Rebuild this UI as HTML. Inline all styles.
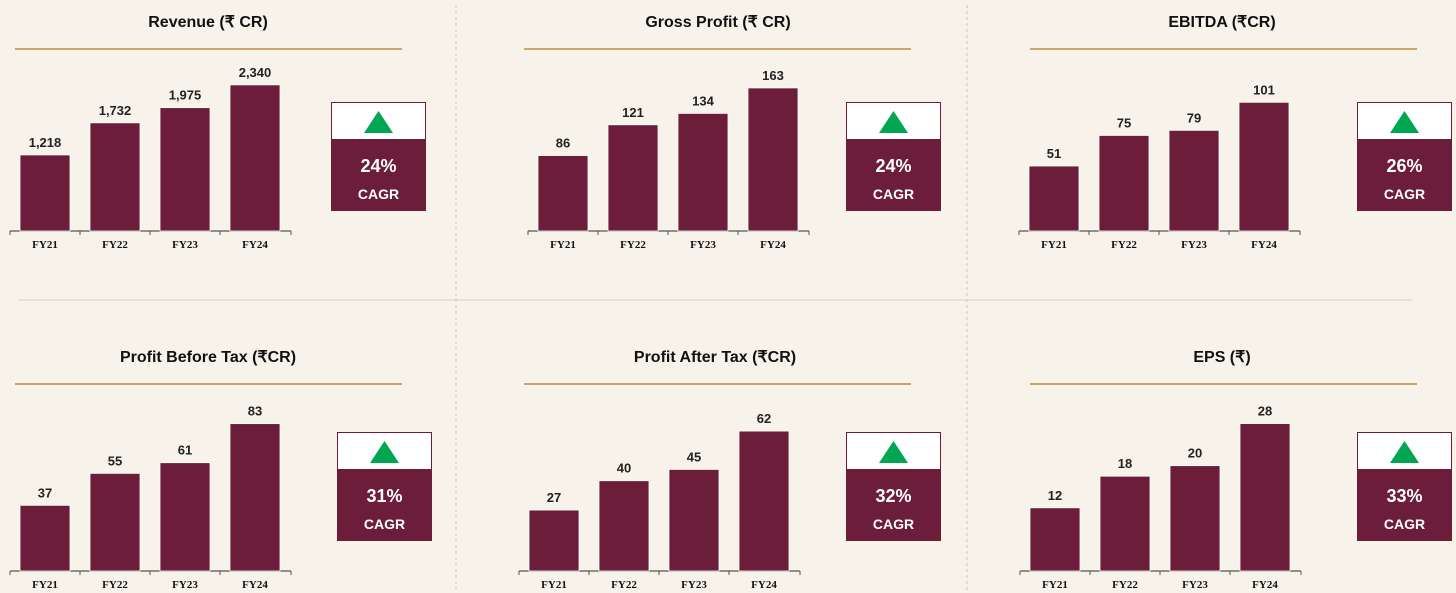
<!DOCTYPE html>
<html><head><meta charset="utf-8">
<style>
html,body{margin:0;padding:0;background:#f7f3ea;}
svg{display:block;font-family:"Liberation Sans",sans-serif;}
</style></head>
<body>
<svg id="c" width="1456" height="593" viewBox="0 0 1456 593">
<rect width="1456" height="593" fill="#f7f3ea"/>
<line x1="456" y1="5" x2="456" y2="593" stroke="#c9c2b4" stroke-dasharray="3,3"/>
<line x1="967" y1="5" x2="967" y2="593" stroke="#c9c2b4" stroke-dasharray="3,3"/>
<line x1="18" y1="300" x2="1412" y2="300" stroke="#d6cfc2"/>
</svg>
<script>
const categories = ["FY21","FY22","FY23","FY24"];
const titles = ["Revenue (₹ CR)","Gross Profit  (₹ CR)","EBITDA (₹CR)","Profit Before Tax (₹CR)","Profit After Tax (₹CR)","EPS (₹)"];
const revenue = [1218,1732,1975,2340];
const grossProfit = [86,121,134,163];
const ebitda = [51,75,79,101];
const pbt = [37,55,61,83];
const pat = [27,40,45,62];
const eps = [12,18,20,28];
const cagr = ["24%","24%","26%","31%","32%","33%"];
const yMax = [2530,180,124,89,70,30];
const series = [revenue,grossProfit,ebitda,pbt,pat,eps];
const labelFmt = v => v.toLocaleString('en-US');

const layout = [
 {bx:20,ay:231,box:331,by:102,tx:208,ty:21,lx:15},
 {bx:538,ay:231,box:846,by:102,tx:718,ty:21,lx:524},
 {bx:1029,ay:231,box:1357,by:102,tx:1222,ty:21,lx:1030},
 {bx:20,ay:571,box:337,by:432,tx:208,ty:356,lx:15},
 {bx:529,ay:571,box:846,by:432,tx:715,ty:356,lx:524},
 {bx:1030,ay:571,box:1357,by:432,tx:1222,ty:356,lx:1030}
];
const svg = document.getElementById('c');
const NS = 'http://www.w3.org/2000/svg';
function mk(tag, attrs, parent){const e=document.createElementNS(NS,tag);for(const k in attrs)e.setAttribute(k,attrs[k]);(parent||svg).appendChild(e);return e;}
const PH = 158, BW = 50, STEP = 70;
series.forEach((data,i)=>{
  const L = layout[i];
  const g = mk('g',{});
  
  
  const t = mk('text',{x:L.tx,y:L.ty+6,'text-anchor':'middle','font-size':16,'font-weight':'bold',fill:'#111'},g);
  t.textContent = titles[i];
  
  
  const gl = mk('line',{x1:L.lx,y1:L.ty+28,x2:L.lx+387,y2:L.ty+28,stroke:'#c9a66b','stroke-width':2},g);
  
  
  const y = v => L.ay - v/yMax[i]*PH;
  const x0 = L.bx-10;
  const ax = mk('line',{x1:x0,y1:L.ay,x2:x0+STEP*4+1,y2:L.ay,stroke:'#555','stroke-width':1.2},g);
  
  
  for(let k=0;k<=4;k++){const tk=mk('line',{x1:x0+STEP*k+(k==4?1:0),y1:L.ay,x2:x0+STEP*k+(k==4?1:0),y2:L.ay+4,stroke:'#555'},g);
    
    }
  data.forEach((v,j)=>{
    const bx = L.bx + j*STEP;
    const r = mk('rect',{x:bx,y:y(v),width:BW,height:L.ay-y(v),fill:'#6b1d3a',stroke:'#fff','stroke-width':0.8},g);
    
    
    const vl = mk('text',{x:bx+BW/2,y:y(v)-8,'text-anchor':'middle','font-size':13,'font-weight':'bold',fill:'#222'},g);
    vl.textContent = labelFmt(v);
    
    
    const cl = mk('text',{x:bx+BW/2,y:L.ay+17,'text-anchor':'middle','font-size':11,'font-weight':'bold','font-family':'Liberation Serif, serif',fill:'#111'},g);
    cl.textContent = categories[j];
    
    
  });
  const bg = mk('g',{},g);
  
  
  mk('rect',{x:L.box,y:L.by,width:95,height:109,fill:'#6b1d3a'},bg);
  mk('rect',{x:L.box+1,y:L.by+1,width:93,height:36,fill:'#fff'},bg);
  const tri = mk('polygon',{points:`${L.box+47.5},${L.by+9} ${L.box+62},${L.by+31} ${L.box+33},${L.by+31}`,fill:'#00a651'},bg);
  
  
  const pc = mk('text',{x:L.box+47.5,y:L.by+70,'text-anchor':'middle','font-size':18,'font-weight':'bold',fill:'#fff'},bg);
  pc.textContent = cagr[i];
  
  
  const cg = mk('text',{x:L.box+47.5,y:L.by+97,'text-anchor':'middle','font-size':14,'font-weight':'bold',fill:'#fff'},bg);
  cg.textContent = 'CAGR';
  
  
});
</script>
</body></html>
